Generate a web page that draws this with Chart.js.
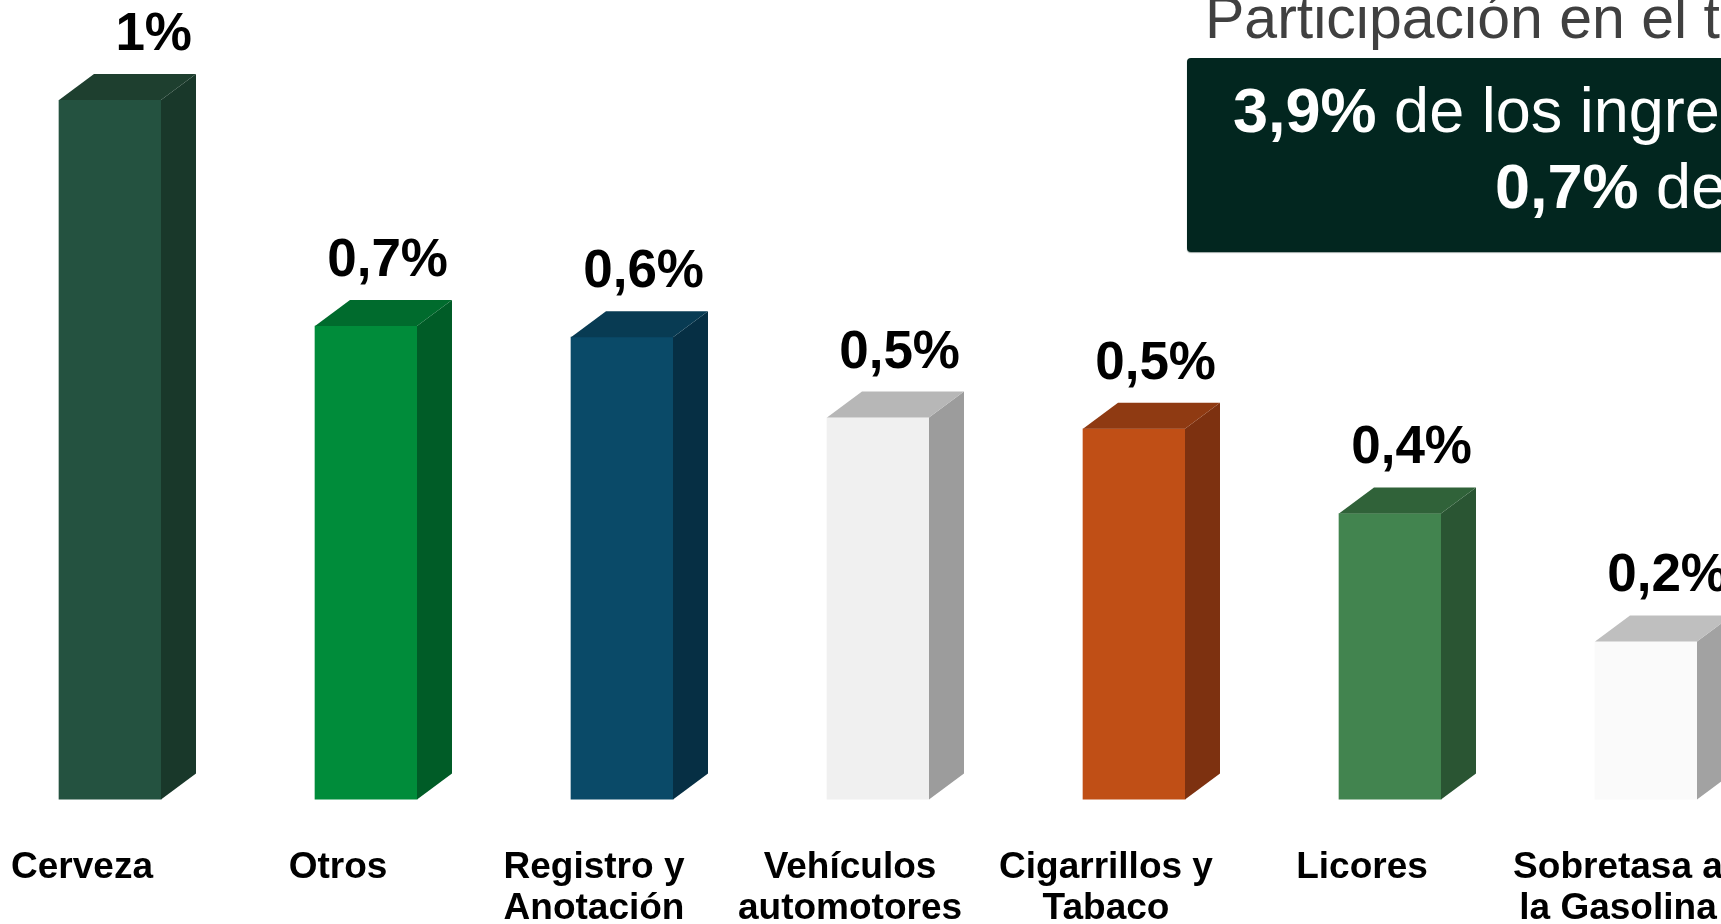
<!DOCTYPE html>
<html>
<head>
<meta charset="utf-8">
<script src="https://cdn.jsdelivr.net/npm/chart.js@4.4.1/dist/chart.umd.min.js"></script>
<style>
	html, body {margin: 0; padding: 0; background: #fff; width: 1721px; height: 924px; overflow: hidden; position: relative; font-family: "Liberation Sans", Arial, sans-serif;}
	.wrap {position: absolute; left: -18px; top: 0; width: 1792px; height: 924px;}
	.title {position: absolute; left: 1205px; top: 0; height: 58px; font-size: 59px; color: #404040; white-space: nowrap; line-height: 1;}
	.title span {position: absolute; left: 0; top: -11px;}
	.box {position: absolute; left: 1187px; top: 58px; width: 700px; height: 194px; background: #02261f; border-radius: 4px; box-shadow: 0 1px 1px #9aa5a2; color: #fff; white-space: nowrap;}
	.box .l {position: absolute; font-size: 63px; line-height: 1;}
	.box b {font-weight: bold;}
</style>
</head>
<body>
<div class="wrap"><canvas id="chart"></canvas></div>
<div class="title"><span>Participación en el total</span></div>
<div class="box">
	<div class="l" style="left:46px; top:21px;"><b>3,9%</b> de los ingresos tributarios</div>
	<div class="l" style="left:308px; top:97px;"><b>0,7%</b> del PIB</div>
</div>
<script>
	var categories = ['Cerveza', 'Otros', ['Registro y', 'Anotación'], ['Vehículos', 'automotores'], ['Cigarrillos y', 'Tabaco'], 'Licores', ['Sobretasa a', 'la Gasolina']];
	var values = [1.0, 0.677, 0.661, 0.546, 0.53, 0.409, 0.226];
	var valueLabels = ['1%', '0,7%', '0,6%', '0,5%', '0,5%', '0,4%', '0,2%'];
	var frontColors = ['#245240', '#008c3a', '#0a4a68', '#f0f0f0', '#c04f16', '#42844f', '#fafafa'];
	var sideColors = ['#19382a', '#005c27', '#062f44', '#9c9c9c', '#7d3110', '#2a5533', '#a2a2a2'];
	var topColors = ['#1e3f2f', '#006b2d', '#083b53', '#b7b7b7', '#8f3a12', '#306239', '#bfbfbf'];

	var depthX = 35;
	var depthY = 26;

	// side + top faces, then the value labels
	var bars3d = {
		id: 'bars3d',
		afterDatasetsDraw: function(chart) {
			var ctx = chart.ctx;
			var meta = chart.getDatasetMeta(0);
			ctx.save();
			meta.data.forEach(function(bar, i) {
				var p = bar.getProps(['x', 'y', 'width', 'base'], true);
				var left = p.x - p.width / 2;
				var right = p.x + p.width / 2;

				ctx.fillStyle = sideColors[i];
				ctx.beginPath();
				ctx.moveTo(right, p.y);
				ctx.lineTo(right + depthX, p.y - depthY);
				ctx.lineTo(right + depthX, p.base - depthY);
				ctx.lineTo(right, p.base);
				ctx.closePath();
				ctx.fill();

				ctx.fillStyle = topColors[i];
				ctx.beginPath();
				ctx.moveTo(left, p.y);
				ctx.lineTo(left + depthX, p.y - depthY);
				ctx.lineTo(right + depthX, p.y - depthY);
				ctx.lineTo(right, p.y);
				ctx.closePath();
				ctx.fill();

				ctx.fillStyle = '#000';
				ctx.font = 'bold 53px "Liberation Sans", Arial, sans-serif';
				ctx.textAlign = 'right';
				ctx.textBaseline = 'alphabetic';
				ctx.fillText(valueLabels[i], p.x + 82, p.y - 50);
			});
			ctx.restore();
		}
	};

	new Chart(document.getElementById('chart'), {
		type: 'bar',
		data: {
			labels: categories,
			datasets: [{
				data: values,
				backgroundColor: frontColors,
				borderWidth: 0,
				barThickness: 102
			}]
		},
		options: {
			responsive: true,
			maintainAspectRatio: false,
			animation: false,
			layout: {padding: {top: 100, left: 0, right: 0, bottom: -5}},
			plugins: {legend: {display: false}, tooltip: {enabled: false}},
			scales: {
				x: {
					grid: {display: true, drawOnChartArea: false, drawTicks: true, tickLength: 48, color: 'rgba(0,0,0,0)'},
					border: {display: false},
					ticks: {
						color: '#000',
						padding: 0,
						labelOffset: -28,
						autoSkip: false,
						maxRotation: 0,
						minRotation: 0,
						font: {family: '"Liberation Sans", Arial, sans-serif', size: 37, weight: 'bold', lineHeight: 1.1}
					}
				},
				y: {display: false, min: 0, max: 1}
			}
		},
		plugins: [bars3d]
	});
</script>
</body>
</html>
